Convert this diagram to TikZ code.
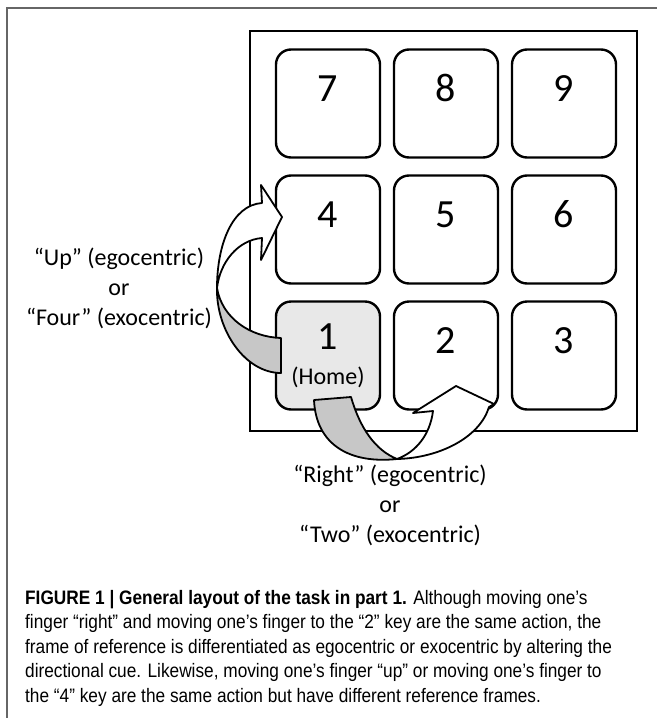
\documentclass[tikz,border=0pt]{standalone}
\usepackage{fontspec}
\usepackage{tikz}
\usetikzlibrary{positioning}
\newfontfamily\keyfont{Carlito}
\newfontfamily\capfont[FakeStretch=0.885]{Liberation Sans}
\definecolor{homefill}{gray}{0.91}
\definecolor{tailfill}{gray}{0.78}
\definecolor{framegray}{gray}{0.4}
\tikzset{
  key/.style={draw, line width=2.4pt, rounded corners=15pt, minimum width=104pt,
    minimum height=108pt, inner sep=0pt, outer sep=0pt,
    font=\keyfont\fontsize{40}{40}\selectfont},
  digit/.style={key, text height=52pt, text depth=56pt},
  cue/.style={align=center, font=\keyfont\fontsize{24}{30}\selectfont},
  back/.style={draw, line width=1.8pt, fill=tailfill, line join=round},
  front/.style={draw, line width=1.8pt, fill=white, line join=round},
}
\begin{document}
\begin{tikzpicture}[x=1pt, y=-1pt]
\useasboundingbox (0,0) rectangle (657,718);
\draw[framegray, line width=1.2pt](7,718)--(7,8)--(657,8);
\draw[line width=2.5pt](250,31) rectangle (637,431);
% keypad
\node[digit] (k7) at (328,103.5) {7};
\node[digit, right=14pt of k7] (k8) {8};
\node[digit, right=14pt of k8] (k9) {9};
\node[digit, below=18pt of k7] (k4) {4};
\node[digit, right=14pt of k4] (k5) {5};
\node[digit, right=14pt of k5] (k6) {6};
\node[key, fill=homefill, align=center, below=18pt of k4] (k1) {1\\[-5pt]{\fontsize{24}{24}\selectfont (Home)}};
\node[digit, right=14pt of k1] (k2) {2};
\node[digit, right=14pt of k2] (k3) {3};
% cues
\node[cue] (upcue) at (119,288) {“Up” (egocentric)\\or\\“Four” (exocentric)};
\node[cue] (rightcue) at (390,505) {“Right” (egocentric)\\or\\“Two” (exocentric)};
% up arrow
\draw[back](217,288) .. controls (222,318) and (250,337) .. (281,338)--(281,373) .. controls (245,373) and (216,330) .. (217,288)--cycle;
\draw[front](217,288) .. controls (217,245) and (232,205) .. (262,203)--(261,185)--(282,217)--(261,260)--(262,238) .. controls (238,240) and (220,262) .. (217,288)--cycle;
% right arrow
\draw[back](314,400)--(351,397) .. controls (360,428) and (375,450) .. (397,459) .. controls (350,464) and (316,445) .. (314,400)--cycle;
\draw[front](397,459) .. controls (440,458) and (480,437) .. (489,407)--(494,404)--(456,386)--(413,413)--(433,411) .. controls (430,435) and (416,452) .. (397,459)--cycle;
% caption
\node[anchor=north west, align=left, inner sep=0pt, font=\capfont\fontsize{19.5}{24.5}\selectfont] (caption) at (25,590)
{\textbf{FIGURE 1 | General layout of the task in part 1.} Although moving one’s\\
finger “right” and moving one’s finger to the “2” key are the same action, the\\
frame of reference is differentiated as egocentric or exocentric by altering the\\
directional cue. Likewise, moving one’s finger “up” or moving one’s finger to\\
the “4” key are the same action but have different reference frames.};

\end{tikzpicture}
\end{document}
